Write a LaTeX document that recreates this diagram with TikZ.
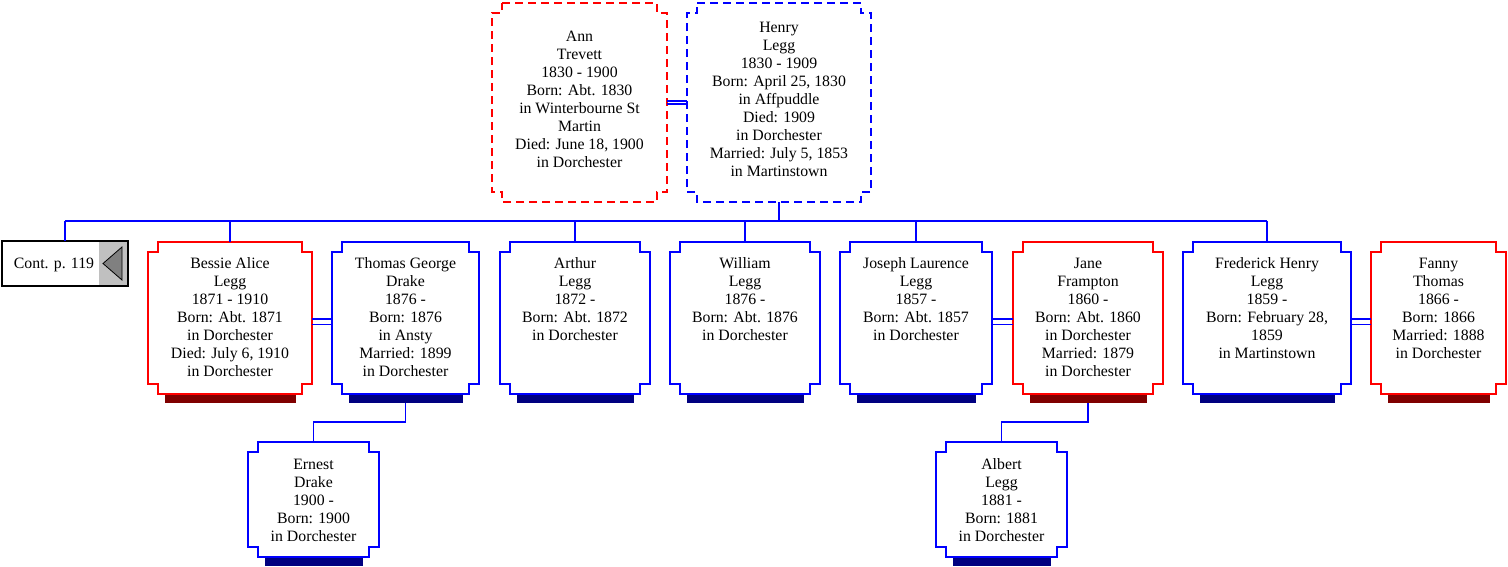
\documentclass[tikz,border=0pt]{standalone}
\usepackage{fontspec}
\setmainfont{Liberation Serif}
\usetikzlibrary{calc}
\definecolor{lblue}{HTML}{0000FF}
\definecolor{lred}{HTML}{FF0000}
\definecolor{sblue}{HTML}{000080}
\definecolor{sred}{HTML}{800000}
\definecolor{contgray}{HTML}{C0C0C0}
\definecolor{trigray}{HTML}{808080}
\newcommand\cardfont{\fontsize{15.8}{18}\selectfont}
\newcommand\cardoutline[2]{%
  \draw[#2] ($(#1.north west)+(10,0)$) -- ($(#1.north east)+(-10,0)$) -- ++(0,10) -- ++(10,0)
   -- ($(#1.south east)+(0,-10)$) -- ++(-10,0) -- ++(0,10) -- ($(#1.south west)+(10,0)$)
   -- ++(0,-10) -- ++(-10,0) -- ($(#1.north west)+(0,10)$) -- ++(10,0) -- cycle;}
\newcommand\cardshadow[2]{%
  \fill[#2] ($(#1.south west)+(17,0)$) rectangle ($(#1.south east)+(-16,9)$);}
\tikzset{
  card/.style={draw=none, inner sep=0pt, outer sep=0pt, anchor=north},
  txt/.style={align=center, inner sep=0pt, outer sep=0pt, anchor=north, font=\cardfont, text=black},
  bluebox/.style={draw=lblue, fill=white, line width=1.8pt, line join=miter},
  redbox/.style={draw=lred, fill=white, line width=1.8pt, line join=miter},
  bluedash/.style={draw=lblue, fill=white, line width=1.4pt, dash pattern=on 8pt off 5pt},
  reddash/.style={draw=lred, fill=white, line width=1.4pt, dash pattern=on 8pt off 5pt},
  conn/.style={draw=lblue, line width=1.8pt},
  dblconn/.style={draw=lblue, line width=1.6pt},
}
\begin{document}
\begin{tikzpicture}[x=1pt,y=-1pt]
\useasboundingbox (0,0) rectangle (1508,566);
% ---------- boxes (geometry) ----------
\node[card, minimum width=175pt, minimum height=199pt] (ann) at (579.5,3) {};
\node[card, minimum width=184pt, minimum height=199pt] (henry) at (779,3) {};
\node[card, minimum width=164pt, minimum height=152pt] (bessie) at (230,242) {};
\node[card, minimum width=147pt, minimum height=152pt] (thomas) at (405.5,242) {};
\node[card, minimum width=150pt, minimum height=152pt] (arthur) at (575,242) {};
\node[card, minimum width=150pt, minimum height=152pt] (william) at (745,242) {};
\node[card, minimum width=152pt, minimum height=152pt] (joseph) at (916,242) {};
\node[card, minimum width=150pt, minimum height=152pt] (jane) at (1088,242) {};
\node[card, minimum width=168pt, minimum height=152pt] (frederick) at (1267,242) {};
\node[card, minimum width=135pt, minimum height=152pt] (fanny) at (1438.5,242) {};
\node[card, minimum width=131pt, minimum height=115pt] (ernest) at (313.5,442) {};
\node[card, minimum width=131pt, minimum height=115pt] (albert) at (1001.5,442) {};
\node[card, minimum width=126pt, minimum height=45pt] (cont) at (65,241) {};
% ---------- shadows ----------
\cardshadow{bessie}{sred}
\cardshadow{thomas}{sblue}
\cardshadow{arthur}{sblue}
\cardshadow{william}{sblue}
\cardshadow{joseph}{sblue}
\cardshadow{jane}{sred}
\cardshadow{frederick}{sblue}
\cardshadow{fanny}{sred}
\cardshadow{ernest}{sblue}
\cardshadow{albert}{sblue}
% ---------- outlines ----------
\cardoutline{ann}{reddash}
\cardoutline{henry}{bluedash}
\cardoutline{bessie}{redbox}
\cardoutline{thomas}{bluebox}
\cardoutline{arthur}{bluebox}
\cardoutline{william}{bluebox}
\cardoutline{joseph}{bluebox}
\cardoutline{jane}{redbox}
\cardoutline{frederick}{bluebox}
\cardoutline{fanny}{redbox}
\cardoutline{ernest}{bluebox}
\cardoutline{albert}{bluebox}
% ---------- continuation box ----------
\fill[white] (cont.north west) rectangle (cont.south east);
\fill[contgray] ($(cont.north east)+(-29,0)$) rectangle (cont.south east);
\coordinate (contapex) at ($(cont.east)+(-25,0)$);
\filldraw[fill=trigray, draw=black, line width=0.8pt] (contapex) -- ($(cont.east)+(-6,-16.5)$) -- ($(cont.east)+(-6,16.5)$) -- cycle;
\draw[black, line width=2pt] (cont.north west) rectangle (cont.south east);
\node[anchor=base, inner sep=0pt, font=\cardfont] (cont-t) at (54,268.5) {Cont. p. 119};
% ---------- connectors ----------
\coordinate (bus) at (0,221);
\draw[conn] (cont.north |- bus) -- (frederick.north |- bus);
\draw[conn] (henry.south) -- (henry.south |- bus);
\foreach \c in {cont,bessie,arthur,william,joseph,frederick}
  \draw[conn] (\c.north) -- (\c.north |- bus);
\draw[dblconn] ([yshift=1.8pt]ann.east) -- ([yshift=1.8pt]henry.west);
\draw[dblconn] ([yshift=-1.5pt]ann.east) -- ([yshift=-1.5pt]henry.west);
\foreach \a/\b in {bessie/thomas,joseph/jane,frederick/fanny}{
  \draw[dblconn] ([yshift=-1pt]\a.east) -- ([yshift=-1pt]\b.west);
  \draw[dblconn] ([yshift=-6.3pt]\a.east) -- ([yshift=-6.3pt]\b.west);
}
\draw[conn] (thomas.south) ++(0,9) -- ++(0,19) -| (ernest.north);
\draw[conn] (jane.south) ++(0,9) -- ++(0,19) -| (albert.north);
% ---------- texts ----------
\node[txt] (ann-t) at ($(ann.north)+(0,26.5)$) {\rule{0pt}{12pt}Ann\\Trevett\\1830 - 1900\\Born: Abt. 1830\\in Winterbourne St\\Martin\\Died: June 18, 1900\\in Dorchester};
\node[txt] (henry-t) at ($(henry.north)+(0,17.5)$) {\rule{0pt}{12pt}Henry\\Legg\\1830 - 1909\\Born: April 25, 1830\\in Affpuddle\\Died: 1909\\in Dorchester\\Married: July 5, 1853\\in Martinstown};
\node[txt] (bessie-t) at ($(bessie.north)+(0,14.5)$) {\rule{0pt}{12pt}Bessie Alice\\Legg\\1871 - 1910\\Born: Abt. 1871\\in Dorchester\\Died: July 6, 1910\\in Dorchester};
\node[txt] (thomas-t) at ($(thomas.north)+(0,14.5)$) {\rule{0pt}{12pt}Thomas George\\Drake\\1876 -\\Born: 1876\\in Ansty\\Married: 1899\\in Dorchester};
\node[txt] (arthur-t) at ($(arthur.north)+(0,14.5)$) {\rule{0pt}{12pt}Arthur\\Legg\\1872 -\\Born: Abt. 1872\\in Dorchester};
\node[txt] (william-t) at ($(william.north)+(0,14.5)$) {\rule{0pt}{12pt}William\\Legg\\1876 -\\Born: Abt. 1876\\in Dorchester};
\node[txt] (joseph-t) at ($(joseph.north)+(0,14.5)$) {\rule{0pt}{12pt}Joseph Laurence\\Legg\\1857 -\\Born: Abt. 1857\\in Dorchester};
\node[txt] (jane-t) at ($(jane.north)+(0,14.5)$) {\rule{0pt}{12pt}Jane\\Frampton\\1860 -\\Born: Abt. 1860\\in Dorchester\\Married: 1879\\in Dorchester};
\node[txt] (frederick-t) at ($(frederick.north)+(0,14.5)$) {\rule{0pt}{12pt}Frederick Henry\\Legg\\1859 -\\Born: February 28,\\1859\\in Martinstown};
\node[txt] (fanny-t) at ($(fanny.north)+(0,14.5)$) {\rule{0pt}{12pt}Fanny\\Thomas\\1866 -\\Born: 1866\\Married: 1888\\in Dorchester};
\node[txt] (ernest-t) at ($(ernest.north)+(0,15)$) {\rule{0pt}{12pt}Ernest\\Drake\\1900 -\\Born: 1900\\in Dorchester};
\node[txt] (albert-t) at ($(albert.north)+(0,15)$) {\rule{0pt}{12pt}Albert\\Legg\\1881 -\\Born: 1881\\in Dorchester};
\end{tikzpicture}
\end{document}
